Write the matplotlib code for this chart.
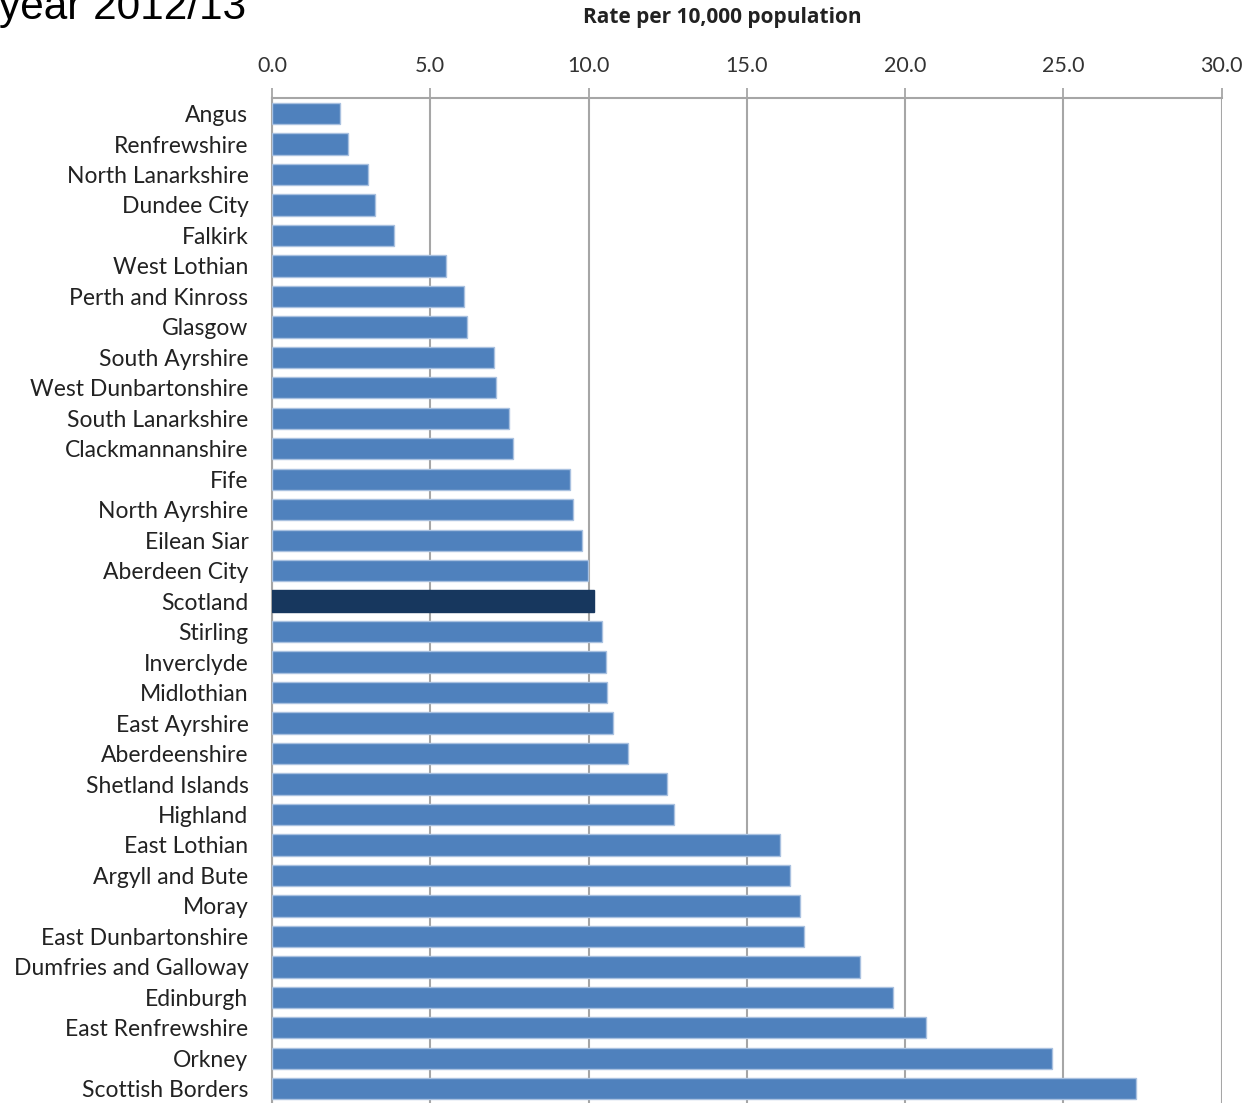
import matplotlib.pyplot as plt
import numpy as np

# Council areas, lowest rate first (top of chart)
areas = [
    "Angus", "Renfrewshire", "North Lanarkshire", "Dundee City", "Falkirk",
    "West Lothian", "Perth and Kinross", "Glasgow", "South Ayrshire",
    "West Dunbartonshire", "South Lanarkshire", "Clackmannanshire", "Fife",
    "North Ayrshire", "Eilean Siar", "Aberdeen City", "Scotland", "Stirling",
    "Inverclyde", "Midlothian", "East Ayrshire", "Aberdeenshire",
    "Shetland Islands", "Highland", "East Lothian", "Argyll and Bute", "Moray",
    "East Dunbartonshire", "Dumfries and Galloway", "Edinburgh",
    "East Renfrewshire", "Orkney", "Scottish Borders",
]
rates = [
    2.16, 2.41, 3.02, 3.26, 3.84,
    5.51, 6.08, 6.15, 7.00,
    7.07, 7.50, 7.61, 9.40,
    9.52, 9.78, 9.99, 10.16, 10.43,
    10.55, 10.58, 10.77, 11.23,
    12.49, 12.71, 16.06, 16.35, 16.69,
    16.79, 18.56, 19.62,
    20.66, 24.63, 27.29,
]
x_ticks = [0, 5, 10, 15, 20, 25, 30]

bar_col = "#4F81BD"
edge_col = "#A9C1E0"
nat_col = "#17375E"
grid_col = "#A6A6A6"
label_font = ["Lato", "DejaVu Sans"]

fig = plt.figure(figsize=(12.49, 11.03), dpi=100)
ax = fig.add_axes([272 / 1249, 1 - 1104 / 1103, (1221.7 - 272) / 1249, (1104 - 98.3) / 1103])

y = np.arange(len(areas))
colours = [nat_col if a == "Scotland" else bar_col for a in areas]
edges = [nat_col if a == "Scotland" else edge_col for a in areas]
ax.barh(y, rates, height=0.70, color=colours, edgecolor=edges, linewidth=1.0, zorder=3)

ax.set_ylim(len(areas) - 0.5, -0.5)
ax.set_xlim(0, 30)

ax.xaxis.tick_top()
ax.set_xticks(x_ticks)
ax.set_xticklabels([f"{t:.1f}" for t in x_ticks], fontsize=15.5, color="#333333",
                   family=label_font)
ax.tick_params(axis="x", length=7, width=1.3, color=grid_col, pad=9)
ax.set_yticks(y)
ax.set_yticklabels(areas, fontsize=16.5, color="#222222", family=label_font)
ax.tick_params(axis="y", length=0, pad=17)

ax.grid(axis="x", color=grid_col, linewidth=1.5, zorder=0)
for side in ["right", "bottom"]:
    ax.spines[side].set_visible(False)
for side in ["top", "left"]:
    ax.spines[side].set_color(grid_col)
    ax.spines[side].set_linewidth(1.5)

fig.text(722 / 1249, 1 - 17 / 1103, "Rate per 10,000 population", ha="center", va="center",
         fontsize=15, fontweight="bold", color="#222222", family=["Open Sans", "DejaVu Sans"])
fig.text(246 / 1249, 1 - 19 / 1103, "year 2012/13", ha="right", va="baseline",
         fontsize=30.5, color="black", family=["Liberation Sans", "DejaVu Sans"])

fig.savefig("out.png", dpi=100)
